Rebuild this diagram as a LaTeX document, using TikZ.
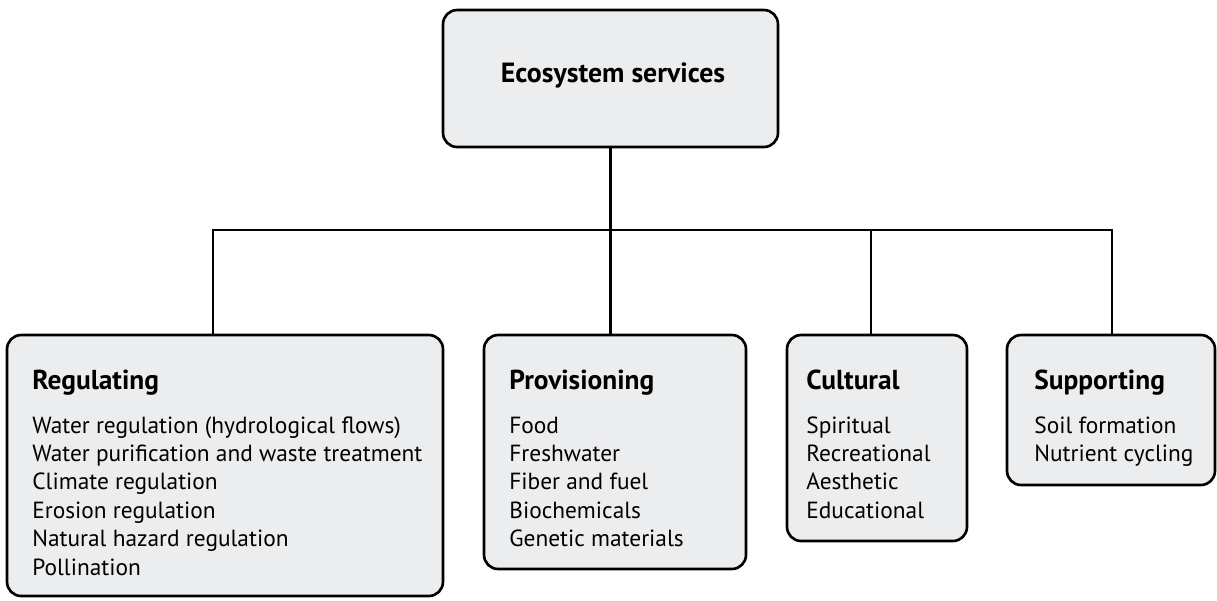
\documentclass[tikz,border=0pt]{standalone}
\usepackage{fontspec}
\setmainfont{PT Sans}
\usetikzlibrary{positioning}
\definecolor{boxfill}{HTML}{ECEDEF}
\tikzset{
  svcbox/.style={draw=black, line width=1.5pt, rounded corners=0.28cm, fill=boxfill, inner sep=0pt},
  link/.style={line width=1.4pt},
  item/.style={anchor=base west, inner sep=0pt, font=\fontsize{13.3}{15}\selectfont},
  head/.style={anchor=base west, inner sep=0pt, font=\fontsize{15.6}{18}\selectfont\bfseries},
}

\begin{document}
\begin{tikzpicture}[x=0.02cm, y=-0.02cm]
	\useasboundingbox (0,0) rectangle (1217,600);
	
	% Boxes
	\node[svcbox, minimum width=6.70cm, minimum height=2.74cm] (eco) at (610.5,78.5) {};
	\node[svcbox, minimum width=8.72cm, minimum height=5.22cm] (reg) at (225,465.5) {};
	\node[svcbox, minimum width=5.24cm, minimum height=4.68cm] (prov) at (615,452) {};
	\node[svcbox, minimum width=3.60cm, minimum height=4.12cm] (cult) at (877,438) {};
	\node[svcbox, minimum width=4.16cm, minimum height=3.00cm] (supp) at (1111,410) {};
	
	% Connectors
	\coordinate (busL) at (213,230);
	\coordinate (busR) at (1112,230);
	\coordinate (cultD) at (871,230);
	\draw[link] (eco.south) -- (eco.south |- prov.north);
	\draw[link] (busL |- reg.north) -- (busL) -- (busR) -- (busR |- supp.north);
	\draw[link] (cultD) -- (cultD |- cult.north);
	
	% Labels
	\node[anchor=base, inner sep=0pt, font=\fontsize{15.8}{18}\selectfont\bfseries] (ecoT) at (613,82) {Ecosystem services};
	
	\node[head] (regH) at (32,389) {Regulating};
	\foreach \t [count=\i] in {Water regulation (hydrological flows), Water purification and waste treatment, Climate regulation, Erosion regulation, Natural hazard regulation, Pollination}
		\node[item] (reg\i) at (32,{433+28.4*(\i-1)}) {\t};
	
	\node[head] (provH) at (509,389) {Provisioning};
	\foreach \t [count=\i] in {Food, Freshwater, Fiber and fuel, Biochemicals, Genetic materials}
		\node[item] (prov\i) at (509,{433+28.4*(\i-1)}) {\t};
	
	\node[head] (cultH) at (806,389) {Cultural};
	\foreach \t [count=\i] in {Spiritual, Recreational, Aesthetic, Educational}
		\node[item] (cult\i) at (806,{433+28.4*(\i-1)}) {\t};
	
	\node[head] (suppH) at (1034,389) {Supporting};
	\foreach \t [count=\i] in {Soil formation, Nutrient cycling}
		\node[item] (supp\i) at (1034,{433+28.4*(\i-1)}) {\t};
\end{tikzpicture}
\end{document}
